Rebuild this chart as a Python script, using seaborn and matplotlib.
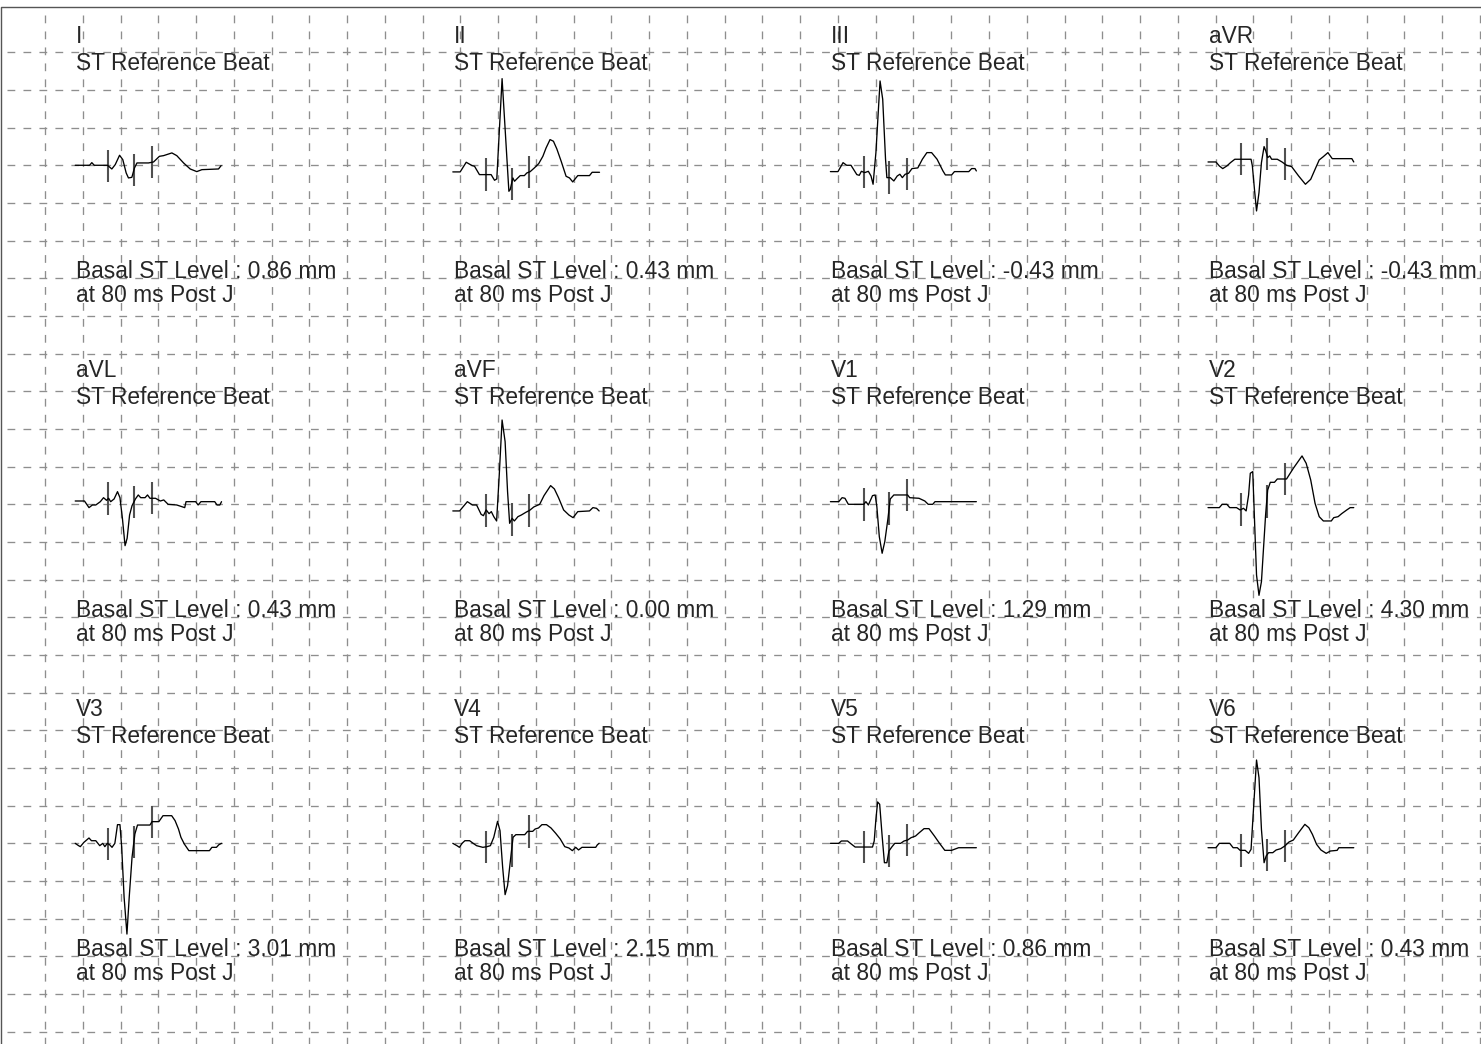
import numpy as np
import pandas as pd
import matplotlib
matplotlib.use("Agg")
import matplotlib.pyplot as plt
import seaborn as sns

# ---------------- data ----------------
leads = ["I", "II", "III", "aVR", "aVL", "aVF", "V1", "V2", "V3", "V4", "V5", "V6"]
st_levels = [0.86, 0.43, -0.43, -0.43, 0.43, 0.00, 1.29, 4.30, 3.01, 2.15, 0.86, 0.43]
marker_ms = [176, 311, 406]          # onset, J point, measurement point

# time in ms, amplitude in mm (10 mm/mV)
I_t = [0, 76, 88, 101, 171, 194, 212, 235, 252, 270, 282, 300, 314, 327, 388, 415, 446, 468, 512, 538, 574, 609, 644, 671, 759, 773]
I_mm = [0, 0, 0.35, 0, 0, -0.49, 0.09, 1.33, 0.75, -1.02, -1.68, -1.6, -0.35, 0.31, 0.31, 0.44, 1.19, 1.28, 1.64, 1.28, 0.31, -0.49, -0.84, -0.58, -0.49, -0.04]

II_t = [0, 39, 71, 102, 115, 141, 203, 221, 233, 261, 297, 304, 318, 327, 339, 357, 379, 392, 410, 432, 455, 477, 494, 515, 533, 551, 574, 600, 618, 635, 662, 724, 738, 777]
II_mm = [-0.88, -0.88, 0.40, -0.04, -0.13, -1.24, -1.24, -1.99, -1.81, 11.5, -3.45, -3.23, -1.68, -2.12, -1.81, -1.37, -1.37, -1.02, -0.84, -0.35, 0.22, 1.19, 2.30, 3.41, 3.19, 2.17, 0.53, -1.46, -1.68, -2.21, -1.37, -1.37, -0.93, -0.93]

III_t = [0, 40, 67, 86, 109, 140, 153, 164, 182, 201, 215, 226, 241, 263, 277, 292, 299, 317, 336, 354, 368, 381, 396, 414, 432, 463, 487, 511, 536, 565, 596, 609, 642, 657, 733, 748, 766, 773]
III_mm = [-0.84, -0.84, 0.35, 0, 0, -1.24, -1.33, -0.80, -0.97, -0.80, -1.42, -2.52, 1.68, 11.19, 8.76, 0.80, -1.64, -1.64, -2.08, -1.42, -1.19, -1.64, -1.19, -1.06, -0.44, -0.35, 0.80, 1.68, 1.68, 0.80, -0.75, -1.28, -1.28, -0.84, -0.84, -0.44, -0.44, -0.75]

aVR_t = [0, 42, 60, 78, 100, 119, 142, 228, 235, 246, 257, 270, 283, 297, 306, 316, 327, 337, 367, 392, 416, 443, 480, 516, 544, 571, 589, 611, 635, 658, 762, 772]
aVR_mm = [0.44, 0.44, -0.09, -0.44, -0.09, 0.35, 0.80, 0.80, -0.09, -3.19, -6.06, -3.63, 0.35, 2.48, 1.90, 1.02, 1.24, 0.80, 0.80, 0.44, 0, -0.18, -1.42, -2.52, -1.86, -0.31, 0.71, 1.15, 1.68, 0.88, 0.88, 0.44]

aVL_t = [0, 49, 73, 91, 109, 133, 150, 166, 177, 188, 206, 224, 237, 250, 264, 275, 288, 301, 319, 334, 347, 370, 383, 396, 425, 451, 469, 492, 538, 580, 587, 638, 651, 666, 739, 751, 766, 775]
aVL_mm = [0.44, 0.44, -0.44, -0.09, -0.09, 0.35, 0.88, 0.53, 0.80, 0.35, 0.71, 1.68, 0.88, -1.86, -5.49, -4.51, -1.42, -0.18, 0.71, 1.24, 0.88, 0.88, 1.24, 0.80, 0.80, 0.44, 0.58, 0, -0.09, -0.44, 0.35, 0.35, -0.09, 0.35, 0.35, -0.09, -0.09, 0.35]

aVF_t = [0, 36, 77, 104, 126, 150, 162, 177, 192, 204, 217, 232, 246, 261, 277, 290, 301, 314, 326, 345, 363, 387, 407, 429, 460, 483, 518, 538, 560, 587, 615, 637, 662, 724, 742, 761, 775]
aVF_mm = [-0.88, -0.88, 0.35, -0.09, -0.09, -1.33, -1.51, -0.75, -1.24, -0.97, -1.64, -2.21, 3.89, 11.19, 8.32, 1.68, -2.52, -1.86, -2.21, -1.64, -1.42, -1.06, -0.80, -0.35, 0, 1.15, 2.48, 2.04, 0.88, -0.75, -1.42, -1.77, -0.97, -0.88, -0.44, -0.53, -0.88]

V1_t = [0, 44, 62, 77, 95, 177, 188, 201, 223, 237, 246, 259, 274, 288, 305, 317, 336, 409, 420, 469, 500, 518, 542, 554, 773]
V1_mm = [0.35, 0.35, 0.88, 0.80, 0, 0, 0.35, -0.09, 1.15, 1.24, -0.31, -4.29, -6.50, -4.96, -1.86, 0.71, 1.24, 1.24, 0.88, 0.80, 0.44, 0, 0, 0.35, 0.35]

V2_t = [0, 60, 75, 100, 115, 151, 170, 188, 202, 215, 224, 237, 246, 257, 270, 283, 294, 305, 316, 330, 352, 367, 416, 452, 498, 520, 544, 567, 589, 611, 653, 666, 689, 708, 735, 753, 772]
V2_mm = [-0.44, -0.44, 0, 0, -0.44, -0.44, -0.75, -0.53, -0.88, 1.24, 4.12, 4.34, -1.86, -9.38, -12.08, -10.27, -5.84, -1.42, 1.90, 2.92, 2.92, 3.36, 3.36, 4.78, 6.42, 5.44, 3.23, 0.13, -1.64, -2.21, -2.21, -1.77, -1.64, -1.24, -0.75, -0.44, -0.44]

V3_t = [0, 18, 27, 46, 73, 86, 109, 130, 146, 157, 170, 182, 195, 210, 224, 237, 246, 259, 274, 286, 301, 316, 330, 396, 407, 443, 465, 511, 529, 547, 560, 578, 602, 711, 724, 748, 761, 775]
V3_mm = [0, -0.31, -0.44, 0.13, 0.71, 0.35, 0.35, -0.31, 0, -0.44, 0, -0.18, -0.53, 0, 2.48, 2.48, -0.44, -7.17, -12.04, -7.17, -1.86, 1.24, 2.43, 2.43, 2.88, 2.88, 3.67, 3.67, 3.01, 1.90, 0.80, -0.09, -0.97, -0.97, -0.53, -0.53, -0.18, 0]

V4_t = [0, 22, 35, 49, 64, 89, 108, 126, 159, 181, 199, 217, 237, 250, 264, 277, 290, 305, 319, 334, 381, 396, 423, 436, 454, 472, 496, 520, 545, 569, 593, 615, 633, 651, 666, 684, 757, 766, 775]
V4_mm = [0, -0.31, -0.53, 0, 0.35, 0.35, 0, -0.31, -0.53, -0.44, -0.31, 0.80, 2.92, 1.68, -3.19, -6.81, -5.62, -2.30, 0.80, 1.15, 1.15, 1.59, 1.59, 1.90, 2.04, 2.48, 2.48, 2.04, 1.33, 0.58, -0.44, -0.62, -0.97, -0.53, -0.88, -0.53, -0.53, -0.18, 0]

V5_t = [0, 44, 58, 91, 106, 131, 223, 232, 241, 250, 261, 274, 286, 299, 310, 325, 341, 372, 390, 409, 427, 451, 471, 496, 522, 551, 578, 606, 642, 679, 773]
V5_mm = [0, 0, 0.31, 0.31, 0, -0.49, -0.49, 0.31, 3.19, 5.49, 5.18, 0.97, -2.57, -2.57, -1.02, -0.49, 0, 0, 0.31, 0.44, 0.75, 0.97, 1.42, 1.95, 1.95, 0.97, 0, -0.93, -0.93, -0.58, -0.58]

V6_t = [0, 42, 60, 115, 133, 155, 170, 197, 215, 228, 243, 257, 270, 283, 297, 308, 321, 343, 361, 385, 407, 429, 452, 480, 513, 534, 553, 575, 598, 626, 648, 684, 693, 772]
V6_mm = [-0.58, -0.58, 0, 0, -0.58, -0.58, -0.93, -0.93, -1.33, -0.80, 5.40, 11.06, 8.72, 1.86, -2.57, -1.68, -1.24, -1.24, -0.88, -0.71, -0.35, 0.18, 0.44, 1.42, 2.52, 2.08, 1.19, -0.13, -0.88, -1.33, -1.02, -0.93, -0.58, -0.58]

traces = {
    "I": (I_t, I_mm), "II": (II_t, II_mm), "III": (III_t, III_mm), "aVR": (aVR_t, aVR_mm),
    "aVL": (aVL_t, aVL_mm), "aVF": (aVF_t, aVF_mm), "V1": (V1_t, V1_mm), "V2": (V2_t, V2_mm),
    "V3": (V3_t, V3_mm), "V4": (V4_t, V4_mm), "V5": (V5_t, V5_mm), "V6": (V6_t, V6_mm),
}

# ---------------- layout (mm on ECG paper) ----------------
PX_X = 7.552          # px per mm horizontally
PX_Y = 7.534          # px per mm vertically
ORIG_X, ORIG_Y = 7.24, 14.6   # px of the grid origin
W, H = 1481, 1044
top_shift = [0.0, -0.7, -0.7]   # header text shift per row (mm)

sns.set_style("white")
plt.rcParams["font.family"] = ["Liberation Sans", "DejaVu Sans"]
plt.rcParams["lines.scale_dashes"] = False

fig = plt.figure(figsize=(W / 100, H / 100), dpi=100)
ax = fig.add_axes([0, 0, 1, 1])
ax.set_xlim(-ORIG_X / PX_X, (W - ORIG_X) / PX_X)
ax.set_ylim((H - ORIG_Y) / PX_Y, -ORIG_Y / PX_Y)
ax.axis("off")

# dashed grid (5 mm)
grid_kw = dict(color="#8e8e8e", lw=0.95, zorder=1)
dash = (0, (5.6, 5.9))
xmax = (W - ORIG_X) / PX_X
ymax = (H - ORIG_Y) / PX_Y
ax.vlines(np.arange(5, 196, 5), 0, ymax, linestyles=[dash], **grid_kw)
ax.hlines(np.arange(5, 136, 5), 0, xmax, linestyles=[dash], **grid_kw)

# frame (left and top)
xl = (1 - ORIG_X) / PX_X
yt = (7 - ORIG_Y) / PX_Y
ax.plot([xl, xl, xmax + 5], [ymax + 5, yt, yt], color="#555555", lw=1.0, zorder=2)

# traces
frames = []
for i, lead in enumerate(leads):
    r, c = divmod(i, 4)
    x0, y0 = 9 + 50 * c, 20 + 45 * r
    t, a = traces[lead]
    t = np.asarray(t, float)
    a = np.asarray(a, float)
    frames.append(pd.DataFrame({"lead": lead, "order": np.arange(len(t)),
                                "x": x0 + t / 40.0, "y": y0 - a}))
df = pd.concat(frames, ignore_index=True)
sns.lineplot(data=df, x="x", y="y", units="lead", estimator=None, sort=False,
             color="black", lw=0.95, ax=ax, legend=False, zorder=4)

fs = 16.4
for i, lead in enumerate(leads):
    r, c = divmod(i, 4)
    x0, y0 = 9 + 50 * c, 20 + 45 * r
    t, a = traces[lead]
    for m in marker_ms:
        cy = y0 - np.interp(m, t, a)
        ax.vlines(x0 + m / 40.0, cy - 2.15, cy + 2.15, color="#505050", lw=1.5, zorder=3)
    tx = x0 + 0.1
    ts = top_shift[r]
    ax.text(tx, y0 - 16.19 + ts, lead, fontsize=fs, va="baseline", ha="left", zorder=5)
    ax.text(tx, y0 - 12.65 + ts, "ST Reference Beat", fontsize=fs, va="baseline", ha="left", zorder=5)
    ax.text(tx, y0 + 15.0, f"Basal ST Level : {st_levels[i]:.2f} mm", fontsize=fs,
            va="baseline", ha="left", zorder=5)
    ax.text(tx, y0 + 18.15, "at 80 ms Post J", fontsize=fs, va="baseline", ha="left", zorder=5)

fig.savefig("out.png", dpi=100)
